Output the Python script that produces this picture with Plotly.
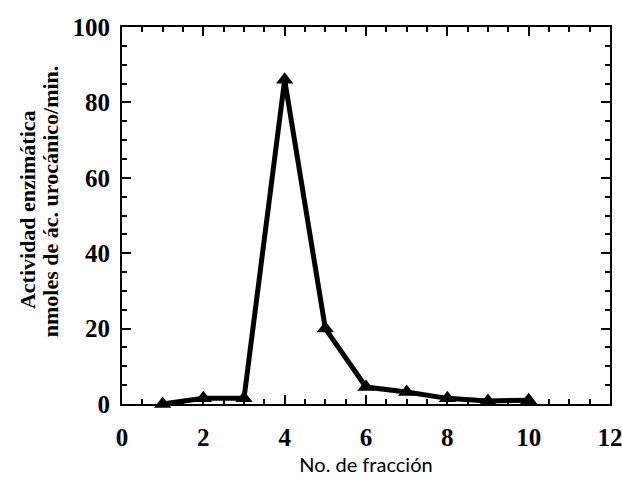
import plotly.graph_objects as go

fraccion = [1, 2, 3, 4, 5, 6, 7, 8, 9, 10]
actividad = [0, 1.5, 1.5, 86, 20, 4.5, 3.2, 1.5, 0.8, 1.0]
ytitle_lines = ["Actividad enzimática", "nmoles de ác. urocánico/min."]

fig = go.Figure()
fig.add_trace(go.Scatter(
    x=fraccion, y=actividad, mode="lines+markers",
    line=dict(color="black", width=5),
    marker=dict(symbol="triangle-up", size=15, color="black"),
    showlegend=False, cliponaxis=False))

axis_common = dict(
    showline=True, linecolor="black", linewidth=2, mirror="allticks",
    ticks="inside", ticklen=9, tickwidth=2, tickcolor="black",
    showgrid=False, zeroline=False, automargin=False, ticklabeloverflow="allow",
    tickfont=dict(family="Liberation Serif", size=25, color="black", weight="bold"),
)

fig.update_xaxes(range=[0, 12], dtick=2, tick0=0, ticklabelstandoff=10,
                 minor=dict(dtick=0.5, ticks="inside", ticklen=5, tickwidth=1.5, tickcolor="black"),
                 title=dict(text="No. de fracción", font=dict(family="Lato", size=20, color="black"), standoff=8),
                 **axis_common)
fig.update_yaxes(range=[0, 100], dtick=20, tick0=0, ticklabelstandoff=5,
                 minor=dict(dtick=5, ticks="inside", ticklen=5, tickwidth=1.5, tickcolor="black"),
                 **axis_common)

for txt, xp, yp in zip(ytitle_lines, [-0.1947, -0.1475], [0.517, 0.538]):
    fig.add_annotation(text="<b>" + txt + "</b>", xref="paper", yref="paper", x=xp, y=yp,
                       textangle=-90, showarrow=False, xanchor="center", yanchor="middle",
                       font=dict(family="Liberation Serif", size=22, color="black"))

fig.update_layout(width=622, height=479, margin=dict(l=122, r=12, t=27, b=75),
                  plot_bgcolor="white", paper_bgcolor="white")
fig.write_html("out.html")
